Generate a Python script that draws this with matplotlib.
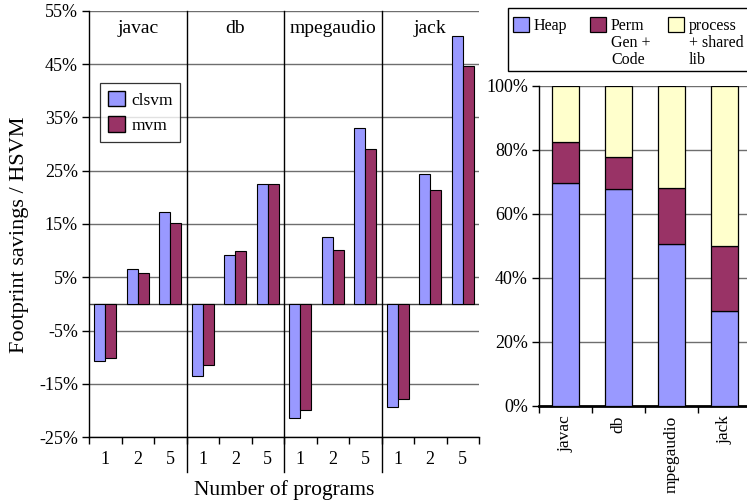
import numpy as np
import matplotlib
matplotlib.use("Agg")
import matplotlib.pyplot as plt
from matplotlib.patches import Patch, Rectangle

plt.rcParams['font.family'] = ['Liberation Serif', 'DejaVu Serif']

# Footprint savings relative to HSVM
benchmarks = ["javac", "db", "mpegaudio", "jack"]
num_programs = ["1", "2", "5"]
clsvm = [[-10.8, 6.6, 17.3],
         [-13.5, 9.2, 22.6],
         [-21.4, 12.6, 33.0],
         [-19.4, 24.3, 50.3]]
mvm = [[-10.1, 5.8, 15.1],
       [-11.5, 9.9, 22.5],
       [-19.9, 10.1, 29.0],
       [-17.9, 21.3, 44.7]]

# Memory composition (percent of footprint)
heap = [69.6, 67.8, 50.5, 29.6]
permgen_code = [13.0, 10.1, 17.7, 20.2]
process_shared = [17.4, 22.1, 31.8, 50.2]
comp_labels = ["Heap", "Perm\nGen +\nCode", "process\n+ shared\nlib"]

C_BLUE = "#9999FF"
C_PLUM = "#993366"
C_YELLOW = "#FFFFCC"
GRID = "#6e6e6e"

W, H = 747, 501
fig = plt.figure(figsize=(W / 100, H / 100), dpi=100)

# ---------------- left panel ----------------
axl = fig.add_axes([89 / W, (H - 437) / H, (479 - 89) / W, (437 - 11) / H])
ng = len(benchmarks)
nc = len(num_programs)
bw = 1 / 3
for g in range(ng):
    for c in range(nc):
        x = g * nc + c + 0.5
        axl.bar(x - bw / 2, clsvm[g][c], width=bw, color=C_BLUE,
                edgecolor="black", linewidth=0.8, zorder=3)
        axl.bar(x + bw / 2, mvm[g][c], width=bw, color=C_PLUM,
                edgecolor="black", linewidth=0.8, zorder=3)

axl.set_xlim(0, ng * nc)
axl.set_ylim(-25, 55)
yt = np.arange(-25, 56, 10)
axl.set_yticks(yt)
axl.set_yticklabels([f"{v}%" for v in yt], fontsize=13)
for v in yt:
    axl.axhline(v, color=GRID, linewidth=1.0, zorder=1)
axl.axhline(0, color="#444444", linewidth=1.0, zorder=2)

axl.set_xticks(np.arange(ng * nc) + 0.5)
axl.set_xticklabels(num_programs * ng, fontsize=13)
axl.set_xticks(np.arange(ng * nc + 1), minor=True)
axl.tick_params(axis="x", which="major", length=0, pad=10)
axl.tick_params(axis="x", which="minor", length=5, width=1, direction="out")
axl.tick_params(axis="y", length=5, width=1, direction="out", pad=3)

for s in ["top", "right"]:
    axl.spines[s].set_visible(False)
axl.spines["left"].set_linewidth(1.0)
axl.spines["bottom"].set_linewidth(1.0)

# group separators extending below the axis
for g in range(1, ng):
    axl.plot([g * nc, g * nc], [55, -31.5], color="black", linewidth=1.0,
             clip_on=False, zorder=4)

for g, name in enumerate(benchmarks):
    axl.text(g * nc + 1.5, 51.7, name, ha="center", va="center", fontsize=14)

axl.set_ylabel("Footprint savings / HSVM", fontsize=16)
axl.yaxis.set_label_coords(-0.155, 0.474)
axl.set_xlabel("Number of programs", fontsize=15.5, labelpad=9)

legl = axl.legend(handles=[Patch(facecolor=C_BLUE, edgecolor="black", label="clsvm"),
                           Patch(facecolor=C_PLUM, edgecolor="black", label="mvm")],
                  loc="upper left", bbox_to_anchor=(0.028, 0.831), fontsize=12.5,
                  frameon=True, fancybox=False, edgecolor="black",
                  handlelength=1.0, handleheight=1.0, borderpad=0.45,
                  borderaxespad=0, handletextpad=0.35, labelspacing=0.45)
legl.get_frame().set_linewidth(0.9)
legl.set_zorder(5)

# ---------------- right panel ----------------
axr = fig.add_axes([539 / W, (H - 405.7) / H, (751 - 539) / W, (405.7 - 86) / H])
xr = np.arange(len(benchmarks))
rbw = 0.5
axr.bar(xr, heap, width=rbw, color=C_BLUE, edgecolor="black", linewidth=0.9, zorder=3)
axr.bar(xr, permgen_code, width=rbw, bottom=heap, color=C_PLUM,
        edgecolor="black", linewidth=0.9, zorder=3)
bottom2 = [a + b for a, b in zip(heap, permgen_code)]
axr.bar(xr, process_shared, width=rbw, bottom=bottom2, color=C_YELLOW,
        edgecolor="black", linewidth=0.9, zorder=3)

axr.set_xlim(-0.5, len(benchmarks) - 0.5)
axr.set_ylim(0, 100)
yr = np.arange(0, 101, 20)
axr.set_yticks(yr)
axr.set_yticklabels([f"{v}%" for v in yr], fontsize=13)
for v in yr[1:]:
    axr.axhline(v, color=GRID, linewidth=1.0, zorder=1)
axr.set_xticks(xr)
axr.set_xticklabels(benchmarks, rotation=90, fontsize=12.5, va="top")
axr.set_xticks(np.arange(len(benchmarks) + 1) - 0.5, minor=True)
axr.tick_params(axis="x", which="major", length=0, pad=7)
axr.tick_params(axis="x", which="minor", length=5, width=1, direction="out")
axr.tick_params(axis="y", length=5, width=1, direction="out", pad=3)
for s in ["top", "right"]:
    axr.spines[s].set_visible(False)
axr.spines["bottom"].set_linewidth(2.0)
axr.spines["left"].set_linewidth(1.0)

# legend box for the composition panel, entries top-aligned
def fx(px):
    return px / W


def fy(py):
    return 1 - py / H


fig.add_artist(Rectangle((fx(508), fy(71)), fx(760) - fx(508), fy(8) - fy(71),
                         transform=fig.transFigure, facecolor="white",
                         edgecolor="black", linewidth=1.0))
entry_x = [513, 590, 668]
for ex, col, lab in zip(entry_x, [C_BLUE, C_PLUM, C_YELLOW], comp_labels):
    fig.add_artist(Rectangle((fx(ex), fy(32)), fx(16), fy(17) - fy(32),
                             transform=fig.transFigure, facecolor=col,
                             edgecolor="black", linewidth=0.9))
    fig.text(fx(ex + 21), fy(18), lab, ha="left", va="top", fontsize=11.5,
             linespacing=1.08)

fig.savefig("out.png", dpi=100)
